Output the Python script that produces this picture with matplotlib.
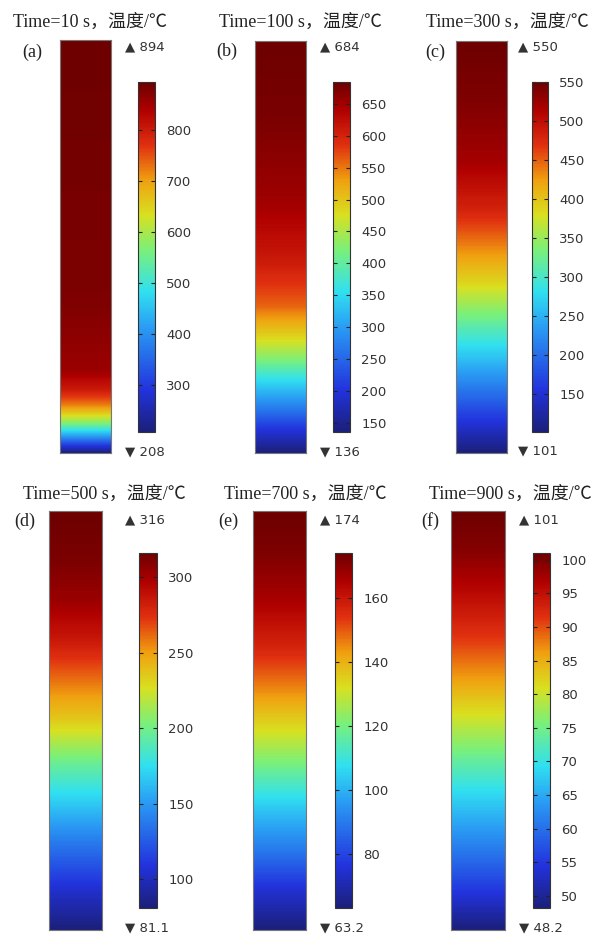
import numpy as np
import matplotlib
matplotlib.use("Agg")
import matplotlib.pyplot as plt
from matplotlib.colors import LinearSegmentedColormap

# Temperature profiles along the specimen height (fraction from bottom) at each time
times = [10, 100, 300, 500, 700, 900]
labels = ["(a)", "(b)", "(c)", "(d)", "(e)", "(f)"]
t_max = [894, 684, 550, 316, 174, 101]
t_min = [208, 136, 101, 81.1, 63.2, 48.2]
max_text = ["894", "684", "550", "316", "174", "101"]
min_text = ["208", "136", "101", "81.1", "63.2", "48.2"]

h_a = [0.0, 0.019, 0.044, 0.068, 0.092, 0.116, 0.153, 0.20, 0.37, 1.0]
T_a = [208, 300, 430, 550, 640, 720, 800, 855, 880, 894]

h_b = [0.0, 0.056, 0.116, 0.165, 0.225, 0.286, 0.358, 0.467, 0.61, 0.81, 1.0]
T_b = [136, 200, 280, 340, 420, 490, 560, 610, 650, 675, 684]

h_c = [0.0, 0.056, 0.128, 0.201, 0.273, 0.346, 0.419, 0.492, 0.588, 0.709, 0.855, 1.0]
T_c = [101, 140, 190, 240, 290, 340, 390, 430, 480, 520, 540, 550]

h_d = [0.0, 0.095, 0.215, 0.310, 0.406, 0.501, 0.597, 0.692, 0.788, 0.883, 1.0]
T_d = [81.1, 105, 140, 170, 200, 235, 260, 285, 303, 312, 316]

h_e = [0.0, 0.095, 0.191, 0.286, 0.382, 0.477, 0.573, 0.668, 0.788, 0.907, 1.0]
T_e = [63.2, 75, 90, 103, 118, 132, 145, 156, 166, 172, 174]

h_f = [0.0, 0.095, 0.191, 0.310, 0.406, 0.501, 0.597, 0.692, 0.811, 0.907, 1.0]
T_f = [48.2, 55, 61, 68, 74, 80, 86, 91, 96, 99.5, 101]

heights = [h_a, h_b, h_c, h_d, h_e, h_f]
temps = [T_a, T_b, T_c, T_d, T_e, T_f]

cbar_ticks = [
    [300, 400, 500, 600, 700, 800],
    [150, 200, 250, 300, 350, 400, 450, 500, 550, 600, 650],
    [150, 200, 250, 300, 350, 400, 450, 500, 550],
    [100, 150, 200, 250, 300],
    [80, 100, 120, 140, 160],
    [50, 55, 60, 65, 70, 75, 80, 85, 90, 95, 100],
]

rainbow = LinearSegmentedColormap.from_list("rainbow_fem", [
    (0.00, "#1b1f7a"),
    (0.12, "#2233dd"),
    (0.30, "#2a9df4"),
    (0.40, "#30e0f0"),
    (0.52, "#7af07a"),
    (0.62, "#d8e020"),
    (0.72, "#f0a010"),
    (0.82, "#e03010"),
    (0.92, "#b00000"),
    (1.00, "#6e0000"),
])

W, H = 593, 934
fig = plt.figure(figsize=(W / 100, H / 100), dpi=100)

def box(x0, y0, x1, y1):
    return [x0 / W, 1 - y1 / H, (x1 - x0) / W, (y1 - y0) / H]

# pixel layout: bar, colorbar, title centre, label centre, max/min text x
bars = [(60, 40, 111, 453), (255, 41, 306, 453), (456, 41, 507, 453),
        (49, 511, 102, 930), (253, 511, 306, 930), (451, 511, 505, 930)]
cbars = [(138, 82, 155, 432), (333, 82, 350, 432), (532, 82, 548, 432),
         (139, 553, 157, 908), (335, 553, 352, 908), (533, 553, 550, 908)]
title_pos = [(90, 22), (300, 22), (507, 22), (104, 494), (305, 494), (510, 494)]
label_pos = [(32, 52), (227, 51), (435, 52), (25, 521), (228, 521), (430, 521)]
mark_x = [125, 320, 518, 125, 320, 519]
mark_y = [(47, 452), (47, 452), (47, 451), (520, 928), (520, 928), (520, 928)]

title_font = ["Liberation Serif", "Noto Sans CJK SC"]
txt_col = "#333333"

for i in range(6):
    ax = fig.add_axes(box(*bars[i]))
    h = np.array(heights[i])
    T = np.array(temps[i])
    Z = np.column_stack([T, T])
    levels = np.linspace(t_min[i], t_max[i], 256)
    ax.contourf([0, 1], h, Z, levels=levels, cmap=rainbow,
                vmin=t_min[i], vmax=t_max[i], extend="both")
    ax.set_xlim(0, 1)
    ax.set_ylim(0, 1)
    ax.set_xticks([])
    ax.set_yticks([])
    for s in ax.spines.values():
        s.set_color("#777777")
        s.set_linewidth(0.8)

    cax = fig.add_axes(box(*cbars[i]))
    sm = plt.cm.ScalarMappable(cmap=rainbow,
                               norm=plt.Normalize(t_min[i], t_max[i]))
    cb = fig.colorbar(sm, cax=cax, ticks=cbar_ticks[i])
    cb.outline.set_edgecolor("#333333")
    cb.outline.set_linewidth(0.8)
    cax.tick_params(direction="in", left=True, right=True, length=3,
                    width=0.8, color="#222222", labelsize=9.5,
                    labelcolor=txt_col, pad=8)
    cax.yaxis.set_ticks_position("both")
    cax.yaxis.set_label_position("right")
    cax.tick_params(labelleft=False, labelright=True)

    tx, ty = title_pos[i]
    fig.text(tx / W, 1 - ty / H, f"Time={times[i]} s，温度/℃",
             ha="center", va="center", fontsize=13, family=title_font,
             color="#222222")
    lx, ly = label_pos[i]
    fig.text(lx / W, 1 - ly / H, labels[i], ha="center", va="center",
             fontsize=13, family=title_font, color="#222222")
    mx = mark_x[i]
    my_top, my_bot = mark_y[i]
    fig.text(mx / W, 1 - my_top / H, "▲ " + max_text[i], ha="left",
             va="center", fontsize=9.5, color=txt_col, family="DejaVu Sans")
    fig.text(mx / W, 1 - my_bot / H, "▼ " + min_text[i], ha="left",
             va="center", fontsize=9.5, color=txt_col, family="DejaVu Sans")

fig.savefig("out.png", dpi=100, facecolor="white")
